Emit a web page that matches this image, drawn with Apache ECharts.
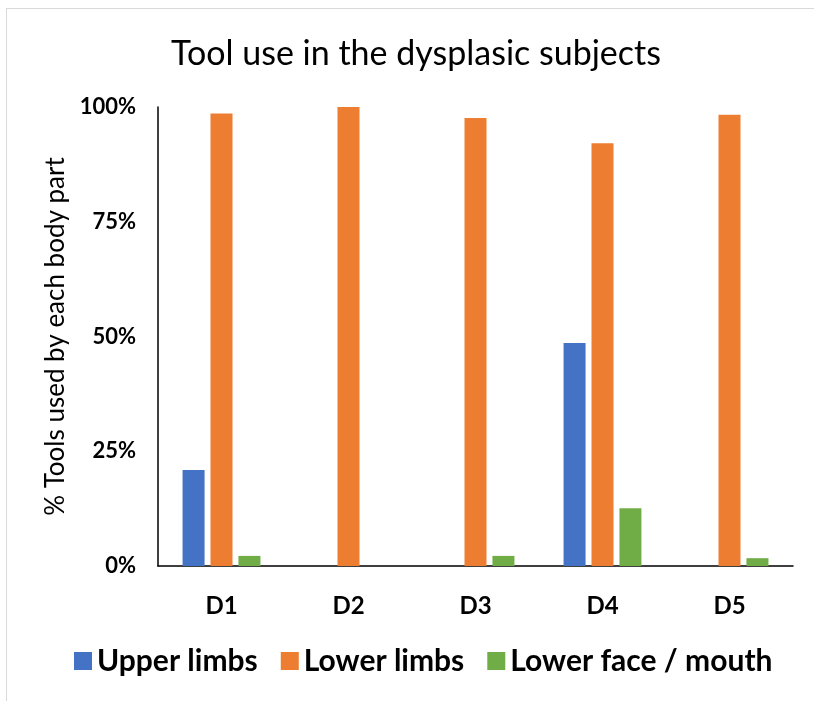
<!DOCTYPE html>
<html>
<head>
<meta charset="utf-8">
<script src="https://cdn.jsdelivr.net/npm/echarts@6/dist/echarts.min.js"></script>
<style>
  html, body { margin: 0; padding: 0; background: #fff; overflow: hidden; }
  #frame { position: absolute; left: 6px; top: 8px; width: 820px; height: 710px; border-left: 1.5px solid #d9d9d9; border-top: 1.5px solid #d9d9d9; }
  #main { position: absolute; left: 0; top: 0; width: 814px; height: 701px; }
</style>
</head>
<body>
<div id="frame"></div>
<div id="main"></div>
<script>
// data (percent)
const subjects = ['D1', 'D2', 'D3', 'D4', 'D5'];
const upperLimbs = [20.9, 0, 0, 48.6, 0];
const lowerLimbs = [98.6, 100, 97.6, 92.1, 98.3];
const lowerFace = [2.2, 0, 2.2, 12.6, 1.7];

const fontName = 'Lato';
const chart = echarts.init(document.getElementById('main'));

function barSeries(name, data, color) {
    return {
        name: name,
        type: 'bar',
        data: data,
        barWidth: 22,
        barGap: '27%',
        itemStyle: { color: color }
    };
}

chart.setOption({
    animation: false,
    title: {
        text: 'Tool use in the dysplasic subjects',
        left: 166,
        top: 32,
        textStyle: { fontFamily: fontName, fontSize: 34, fontWeight: 'normal', color: '#000' }
    },
    legend: {
        bottom: 20,
        left: 69,
        icon: 'rect',
        itemWidth: 18,
        itemHeight: 18,
        itemGap: 23,
        textStyle: { fontFamily: fontName, fontSize: 30, fontWeight: 'bold', color: '#000' },
        data: ['Upper limbs', 'Lower limbs', 'Lower face / mouth']
    },
    grid: { left: 158, right: 21, top: 107, bottom: 135 },
    xAxis: {
        type: 'category',
        data: subjects,
        axisLine: { lineStyle: { color: '#000', width: 1.5 } },
        axisTick: { show: false },
        axisLabel: { margin: 28, fontFamily: fontName, fontSize: 24, fontWeight: 'bold', color: '#000' }
    },
    yAxis: {
        type: 'value',
        min: 0,
        max: 100,
        interval: 25,
        name: '% Tools used by each body part',
        nameLocation: 'middle',
        nameGap: 87,
        nameTextStyle: { fontFamily: fontName, fontSize: 26, color: '#000' },
        axisLine: { show: true, lineStyle: { color: '#000', width: 1.5 } },
        axisTick: { show: false },
        splitLine: { show: false },
        axisLabel: {
            margin: 22,
            fontFamily: fontName, fontSize: 22, fontWeight: 'bold', color: '#000',
            formatter: '{value}%'
        }
    },
    series: [
        barSeries('Upper limbs', upperLimbs, '#4472C4'),
        barSeries('Lower limbs', lowerLimbs, '#ED7D31'),
        barSeries('Lower face / mouth', lowerFace, '#70AD47')
    ]
});
</script>
</body>
</html>
